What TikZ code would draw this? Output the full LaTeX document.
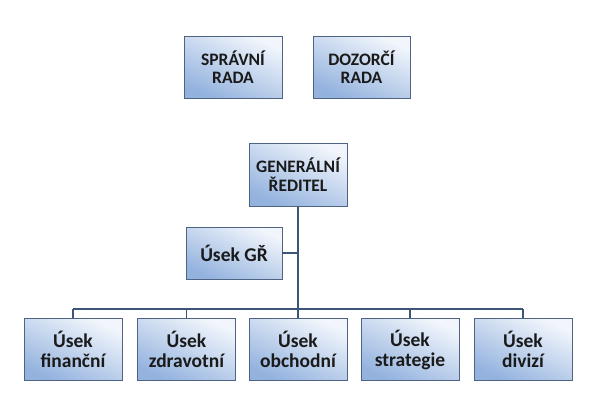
\documentclass[tikz,border=0pt]{standalone}
\usepackage{fontspec}
\setmainfont{Carlito}
\usetikzlibrary{positioning,calc}
\definecolor{cEdge}{HTML}{4F6482}
\definecolor{cLink}{HTML}{3B5676}
\definecolor{cTop}{HTML}{F2F6FC}
\definecolor{cBot}{HTML}{93B2DE}
\definecolor{cTxt}{HTML}{1A1A1A}
\tikzset{
  box/.style={draw=cEdge, line width=0.9pt, top color=cTop, bottom color=cBot,
    shading angle=-25, align=center, text=cTxt, inner sep=2pt,
    minimum width=98pt, minimum height=62pt},
  headbox/.style={box, font=\fontsize{17.5}{18.5}\selectfont\bfseries},
  unitbox/.style={box, font=\fontsize{19.5}{20}\selectfont\bfseries},
  link/.style={draw=cLink, line width=1.4pt},
}

\begin{document}
\begin{tikzpicture}[x=1pt, y=-1pt]
    \useasboundingbox (0,0) rectangle (604,416);
    % boards
    \node[headbox] (spr) at (233,67)   {SPRÁVNÍ\\RADA};
    \node[headbox, minimum width=97pt] (doz) at (361.5,67) {DOZORČÍ\\RADA};
    % management
    \node[headbox, minimum height=63pt] (gen) at (298,174.5) {GENERÁLNÍ\\ŘEDITEL};
    \node[unitbox, minimum width=96pt, minimum height=52pt] (usekgr) at (234,253) {Úsek GŘ};
    % divisions
    \node[unitbox] (fin)   at (73,349.5)  {Úsek\\finanční};
    \node[unitbox] (zdr)   at (186.5,349.5) {Úsek\\zdravotní};
    \node[unitbox] (obch)  at (298,349.5) {Úsek\\obchodní};
    \node[unitbox] (strat) at (410,349.5) {Úsek\\strategie};
    \node[unitbox] (div)   at (523,349.5) {Úsek\\divizí};
    \coordinate (bus) at (298,309);
    \draw[link] (gen.south) -- (obch.north);
    \draw[link] (usekgr.east) -- (usekgr.east -| gen.south);
    \draw[link] (fin.north |- bus) -- (div.north |- bus);
    \foreach \u in {fin,zdr,strat,div}
      \draw[link] (\u.north) -- (\u.north |- bus);
\end{tikzpicture}
\end{document}
